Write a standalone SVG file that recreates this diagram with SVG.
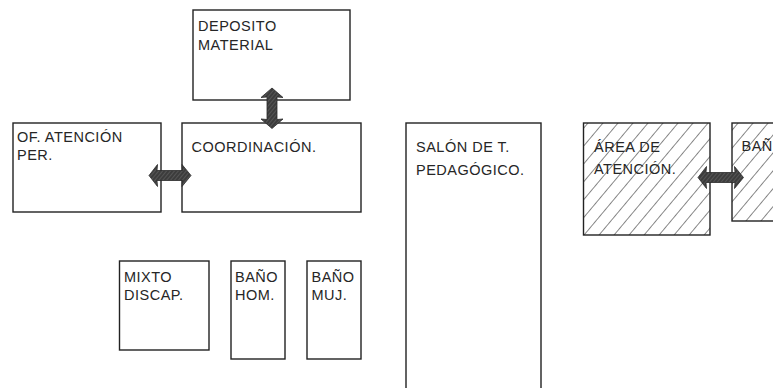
<svg xmlns="http://www.w3.org/2000/svg" width="773" height="388" viewBox="0 0 773 388">
<defs>
<style>
.box{fill:#fff;stroke:#222;stroke-width:1.4}
.hbox{fill:url(#hatch);stroke:#222;stroke-width:1.4}
.lbl{font-family:"Liberation Sans",Arial,sans-serif;font-size:14.5px;letter-spacing:0.5px;fill:#262626}
.arr{fill:url(#ahatch);stroke:#2a2a2a;stroke-width:0.8;stroke-linejoin:round}
</style>
<pattern id="hatch" patternUnits="userSpaceOnUse" width="11.5" height="11.5" patternTransform="rotate(40)">
<rect width="11.5" height="11.5" fill="#fff"/>
<line x1="0" y1="0" x2="0" y2="11.5" stroke="#3a3a3a" stroke-width="1.2"/>
</pattern>
<pattern id="ahatch" patternUnits="userSpaceOnUse" width="3" height="3" patternTransform="rotate(40)">
<rect width="3" height="3" fill="#3c3c3c"/>
<line x1="0" y1="0" x2="0" y2="3" stroke="#7a7a7a" stroke-width="0.8"/>
</pattern>
</defs>
<rect width="773" height="388" fill="#fff"/>
<g id="deposito">
<rect class="box" x="193" y="10" width="157" height="90"/>
<text class="lbl" x="198" y="30.5">DEPOSITO</text>
<text class="lbl" x="198" y="50">MATERIAL</text>
</g>
<g id="of-atencion">
<rect class="box" x="13" y="123" width="148" height="89"/>
<text class="lbl" x="17" y="141.5">OF. ATENCIÓN</text>
<text class="lbl" x="17" y="160">PER.</text>
</g>
<g id="coordinacion">
<rect class="box" x="182" y="123" width="179" height="89"/>
<text class="lbl" x="191.5" y="151.5">COORDINACIÓN.</text>
</g>
<g id="salon">
<rect class="box" x="406" y="123" width="135" height="280"/>
<text class="lbl" x="416" y="151.5">SALÓN DE T.</text>
<text class="lbl" x="416" y="175">PEDAGÓGICO.</text>
</g>
<g id="area-atencion">
<rect class="hbox" x="583.5" y="123" width="126.5" height="112"/>
<text class="lbl" x="594" y="151.5">ÁREA DE</text>
<text class="lbl" x="594" y="173.5">ATENCIÓN.</text>
</g>
<g id="bano-right">
<rect class="hbox" x="732" y="123" width="50" height="98"/>
<text class="lbl" x="741.5" y="150.5">BAÑ</text>
</g>
<g id="mixto">
<rect class="box" x="119.5" y="261" width="89.5" height="89"/>
<text class="lbl" x="124" y="281.5">MIXTO</text>
<text class="lbl" x="124" y="300">DISCAP.</text>
</g>
<g id="bano-hom">
<rect class="box" x="231" y="261" width="54" height="98"/>
<text class="lbl" x="235" y="282">BAÑO</text>
<text class="lbl" x="235" y="300">HOM.</text>
</g>
<g id="bano-muj">
<rect class="box" x="307" y="261" width="54" height="98"/>
<text class="lbl" x="311.5" y="282">BAÑO</text>
<text class="lbl" x="311.5" y="300">MUJ.</text>
</g>
<g id="connectors">
<polygon class="arr" points="272,88 283,97.5 277,97 277,119.5 283,119 272,128.5 261,119 267,119.5 267,97 261,97.5"/>
<polygon class="arr" points="149,175.5 157.5,164.5 157,170.5 182.5,170.5 182,164.5 191,175.5 182,186.5 182.5,180.5 157,180.5 157.5,186.5"/>
<polygon class="arr" points="698,177.5 706.5,166.5 706,172.5 735,172.5 734.5,166.5 743.5,177.5 734.5,188.5 735,182.5 706,182.5 706.5,188.5"/>
</g>
</svg>
